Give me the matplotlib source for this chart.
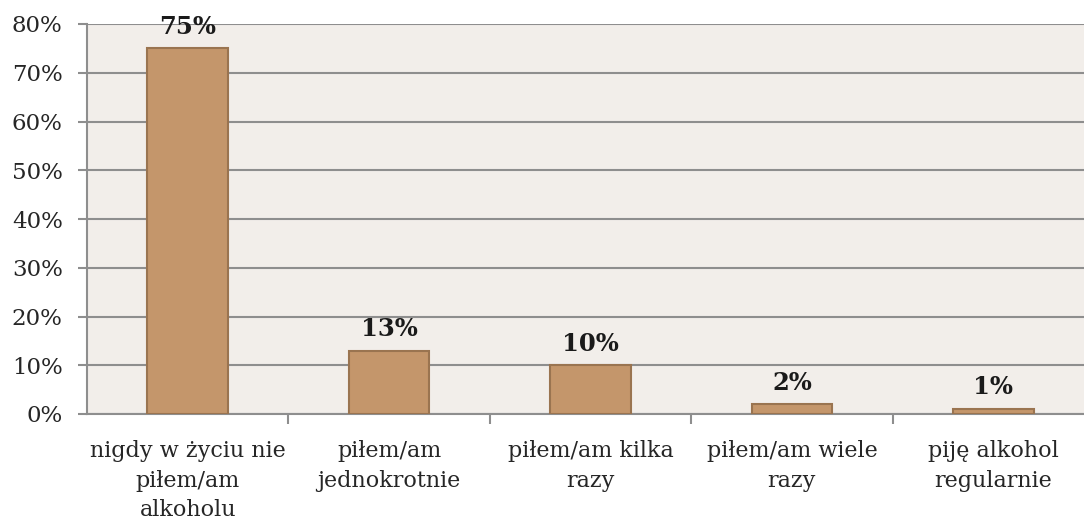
import matplotlib.pyplot as plt
from matplotlib.ticker import PercentFormatter

categories = ['nigdy w życiu nie\npiłem/am\nalkoholu', 'piłem/am\njednokrotnie',
              'piłem/am kilka\nrazy', 'piłem/am wiele\nrazy', 'piję alkohol\nregularnie']
values = [75, 13, 10, 2, 1]
yticks = [0, 10, 20, 30, 40, 50, 60, 70, 80]

plt.rcParams['font.family'] = ['DejaVu Serif']

fig = plt.figure(figsize=(10.84, 5.21), dpi=100)
ax = fig.add_axes([87 / 1084, 1 - 414 / 521, 1007 / 1084, 390 / 521])
ax.set_facecolor('#F2EEEA')

x = range(len(categories))
ax.bar(x, values, width=0.4, color='#C4966B', edgecolor='#9A7450', linewidth=1.5, zorder=3)
for xi, v in zip(x, values):
    ax.annotate(f'{v}%', (xi, v), xytext=(0, 7), textcoords='offset points',
                ha='center', va='bottom', fontsize=17.5, fontweight='bold',
                color='#1a1a1a', zorder=4, annotation_clip=False)

ax.set_xlim(-0.5, len(categories) - 0.5)
ax.set_ylim(0, 80)
ax.set_yticks(yticks)
ax.yaxis.set_major_formatter(PercentFormatter(decimals=0))
ax.grid(axis='y', color='#8E8E8E', linewidth=1.5, zorder=1)

ax.set_xticks(list(x))
ax.set_xticklabels(categories, fontsize=16, color='#262626', linespacing=1.42)
ax.set_xticks([i + 0.5 for i in range(len(categories) - 1)], minor=True)
ax.tick_params(axis='x', which='major', length=0, pad=19)
ax.tick_params(axis='x', which='minor', length=7, width=1.5, color='#8E8E8E')
ax.tick_params(axis='y', length=6.5, width=1.5, color='#8E8E8E', labelsize=16.5,
               labelcolor='#262626', pad=11)

for side in ['top', 'right']:
    ax.spines[side].set_visible(False)
for side in ['left', 'bottom']:
    ax.spines[side].set_color('#8E8E8E')
    ax.spines[side].set_linewidth(1.5)

fig.savefig('out.png', dpi=100)
